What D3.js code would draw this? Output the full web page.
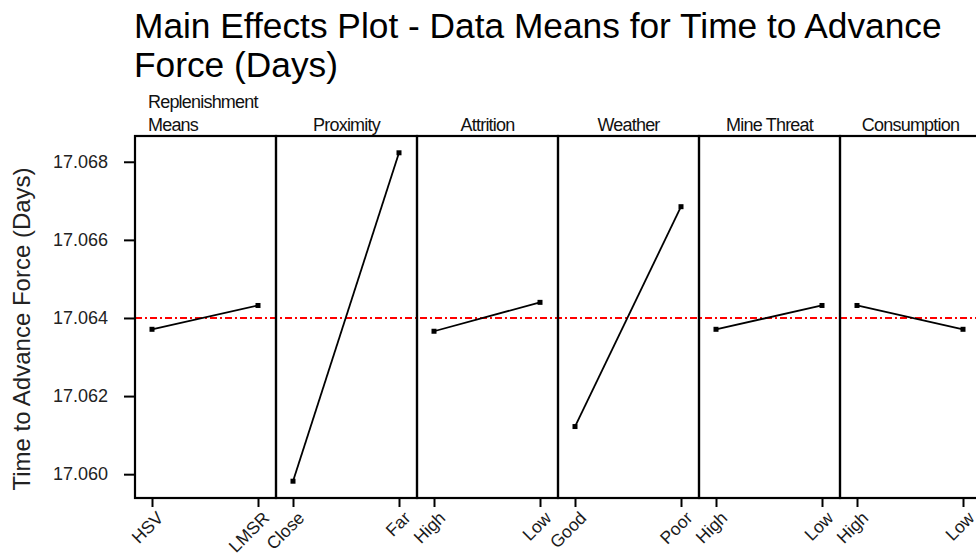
<!DOCTYPE html>
<html>
<head>
<meta charset="utf-8">
<script src="https://cdn.jsdelivr.net/npm/d3@7"></script>
<style>
  body { margin: 0; background: #fff; }
  svg { display: block; font-family: "Liberation Sans", Arial, sans-serif; }
</style>
</head>
<body>
<div id="root"></div>
<script>
// factors and their levels
const factors = ["Replenishment Means", "Proximity", "Attrition", "Weather", "Mine Threat", "Consumption"];
const levels = [
  ["HSV", "LMSR"],
  ["Close", "Far"],
  ["High", "Low"],
  ["Good", "Poor"],
  ["High", "Low"],
  ["High", "Low"],
];
// mean response at each level
const means = [
  [17.06371, 17.06432],
  [17.05982, 17.06823],
  [17.06366, 17.06440],
  [17.06122, 17.06685],
  [17.06371, 17.06432],
  [17.06432, 17.06371],
];
const grandMean = 17.064;
const yTicks = [17.060, 17.062, 17.064, 17.066, 17.068];

const width = 976;
const height = 554;
const margin = { left: 135, top: 136, bottom: 498 };
const panelW = 141;
const font = "Liberation Sans, Arial, sans-serif";

const svg = d3
  .select("#root")
  .append("svg")
  .attr("width", width)
  .attr("height", height);

const y = d3.scaleLinear().domain([17.05939, 17.06866]).range([margin.bottom, margin.top]);

// title
const title = svg
  .append("text")
  .attr("x", 134)
  .attr("y", 38)
  .attr("font-size", 35.3)
  .attr("fill", "#000");
title.append("tspan").attr("x", 134).text("Main Effects Plot - Data Means for Time to Advance");
title.append("tspan").attr("x", 134).attr("dy", 39).text("Force (Days)");

// y axis
svg
  .append("g")
  .attr("transform", `translate(${margin.left},0)`)
  .call(d3.axisLeft(y).tickValues(yTicks).tickFormat(d3.format(".3f")).tickSize(11).tickPadding(16))
  .call((g) => g.select(".domain").remove())
  .call((g) => g.selectAll("line").attr("stroke", "#000").attr("stroke-width", 2))
  .call((g) => g.selectAll("text").attr("font-size", 18).attr("font-family", font).attr("fill", "#222"));

svg
  .append("text")
  .attr("transform", `translate(30,${(margin.top + margin.bottom) / 2 + 12}) rotate(-90)`)
  .attr("text-anchor", "middle")
  .attr("font-size", 24)
  .attr("fill", "#222")
  .text("Time to Advance Force (Days)");

// grand mean reference line (drawn under the frame)
svg
  .append("line")
  .attr("x1", margin.left)
  .attr("x2", margin.left + panelW * factors.length)
  .attr("y1", y(grandMean))
  .attr("y2", y(grandMean))
  .attr("stroke", "#ff0000")
  .attr("stroke-width", 2)
  .attr("stroke-dasharray", "7,3,2,3");

factors.forEach((name, i) => {
  const left = margin.left + panelW * i;
  const g = svg.append("g").attr("transform", `translate(${left},0)`);
  const x = d3.scalePoint().domain(levels[i]).range([17, 123]);

  // panel label
  if (name === "Replenishment Means") {
    const t = g.append("text").attr("font-size", 18).attr("letter-spacing", -0.8).attr("fill", "#111");
    t.append("tspan").attr("x", 13).attr("y", 108).text("Replenishment");
    t.append("tspan").attr("x", 13).attr("y", 131).text("Means");
  } else {
    g.append("text")
      .attr("x", panelW / 2)
      .attr("y", 131)
      .attr("text-anchor", "middle")
      .attr("font-size", 18)
      .attr("letter-spacing", -0.8)
      .attr("fill", "#111")
      .text(name);
  }

  // bottom axis
  g.append("g")
    .attr("transform", `translate(0,${margin.bottom})`)
    .call(d3.axisBottom(x).tickSize(9).tickPadding(4))
    .call((a) => a.select(".domain").remove())
    .call((a) => a.selectAll("line").attr("stroke", "#000").attr("stroke-width", 2))
    .call((a) =>
      a
        .selectAll("text")
        .attr("font-size", 17.5)
        .attr("font-family", font)
        .attr("fill", "#1a1a1a")
        .attr("text-anchor", "end")
        .attr("y", 0)
        .attr("dy", 0)
        .attr("transform", "translate(12,21) rotate(-45)")
    );

  const pts = levels[i].map((lv, j) => [x(lv), y(means[i][j])]);

  g.append("path")
    .datum(pts)
    .attr("d", d3.line())
    .attr("fill", "none")
    .attr("stroke", "#000")
    .attr("stroke-width", 1.8);

  g.selectAll("rect.pt")
    .data(pts)
    .join("rect")
    .attr("class", "pt")
    .attr("x", (d) => d[0] - 2.5)
    .attr("y", (d) => d[1] - 2.5)
    .attr("width", 5)
    .attr("height", 5)
    .attr("fill", "#000");

  // panel frame
  g.append("rect")
    .attr("x", 0)
    .attr("y", margin.top)
    .attr("width", panelW)
    .attr("height", margin.bottom - margin.top)
    .attr("fill", "none")
    .attr("stroke", "#000")
    .attr("stroke-width", 2.2);
});
</script>
</body>
</html>
